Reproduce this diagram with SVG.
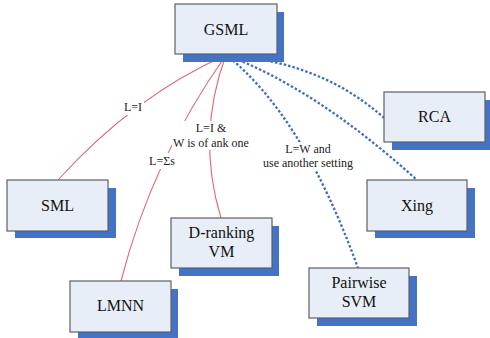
<svg xmlns="http://www.w3.org/2000/svg" width="490" height="338" viewBox="0 0 490 338">
<style>
.shadow{fill:#4472C4}
.box{fill:#E8EEF8;stroke:#5f5f5f;stroke-width:1.2}
text{font-family:"Times New Roman",Times,"Liberation Serif","DejaVu Serif","Noto Serif",serif;fill:#111;text-anchor:middle}
.nt{font-size:16px}
.lt{font-size:12px;fill:#222}
.red{fill:none;stroke:#E06870;stroke-width:1.1}
.blue{fill:none;stroke:#3F6FBF;stroke-width:2.3;stroke-dasharray:2.5 2}
.bg{fill:#fff}
</style>
<rect width="490" height="338" fill="#fff"/>
<g id="connectors">
<path class="red" d="M226,55 Q134,96 58,180"/>
<path class="red" d="M226,55 Q152,160 121,281"/>
<path class="red" d="M226,55 Q196,136 221,218"/>
<path class="blue" d="M226,55 Q322,62 384,118"/>
<path class="blue" d="M226,55 Q315,88 417,180"/>
<path class="blue" d="M226,55 Q302,114 358,268"/>
<g id="labels">
<rect class="bg" x="123" y="99" width="21" height="16"/>
<text class="lt" x="133" y="111">L=I</text>
<rect class="bg" x="172" y="121" width="79" height="29"/>
<text class="lt" x="211" y="132">L=I &amp;</text>
<text class="lt" x="211" y="147">W is of ank one</text>
<rect class="bg" x="148" y="153" width="29" height="16"/>
<text class="lt" x="162" y="165">L=Σs</text>
<rect class="bg" x="261" y="142" width="96" height="29"/>
<text class="lt" x="308" y="153">L=W and</text>
<text class="lt" x="308" y="167">use another setting</text>
</g>
</g>
<g id="GSML">
<rect class="shadow" x="183" y="12" width="101" height="50"/>
<rect class="box" x="175" y="4" width="102" height="50"/>
<text class="nt" x="226" y="35">GSML</text>
</g>
<g id="SML">
<rect class="shadow" x="15" y="188" width="101" height="50"/>
<rect class="box" x="7" y="180" width="101" height="51"/>
<text class="nt" x="57.5" y="211">SML</text>
</g>
<g id="LMNN">
<rect class="shadow" x="78" y="289" width="100" height="50"/>
<rect class="box" x="70" y="281" width="101" height="51"/>
<text class="nt" x="120.5" y="311">LMNN</text>
</g>
<g id="DrankingVM">
<rect class="shadow" x="179" y="226" width="100" height="50"/>
<rect class="box" x="171" y="218" width="101" height="50"/>
<text class="nt" x="221.5" y="238">D-ranking</text>
<text class="nt" x="221.5" y="257">VM</text>
</g>
<g id="PairwiseSVM">
<rect class="shadow" x="317" y="276" width="100" height="50"/>
<rect class="box" x="309" y="268" width="100" height="50"/>
<text class="nt" x="359" y="288">Pairwise</text>
<text class="nt" x="359" y="307">SVM</text>
</g>
<g id="Xing">
<rect class="shadow" x="375" y="188" width="100" height="50"/>
<rect class="box" x="367" y="180" width="100" height="51"/>
<text class="nt" x="417" y="211">Xing</text>
</g>
<g id="RCA">
<rect class="shadow" x="392" y="100" width="100" height="50"/>
<rect class="box" x="384" y="92" width="101" height="50"/>
<text class="nt" x="434.5" y="122">RCA</text>
</g>
</svg>
